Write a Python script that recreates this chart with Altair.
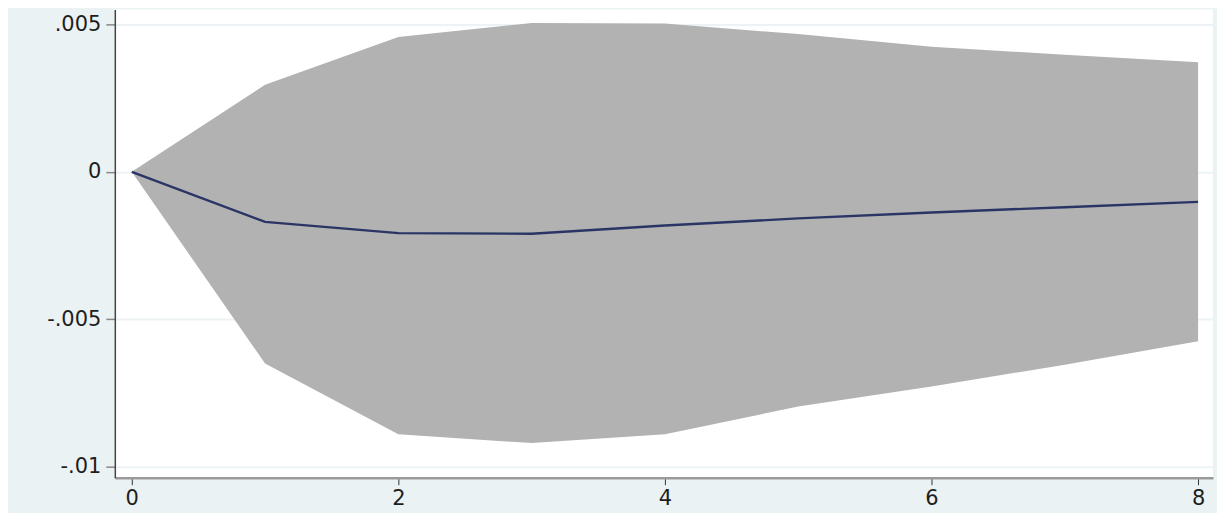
import altair as alt
import pandas as pd

step = [0, 1, 2, 3, 4, 5, 6, 7, 8]
irf = [0, -0.0017, -0.00208, -0.0021, -0.00182, -0.00158, -0.00138, -0.0012, -0.00102]
upper = [0, 0.00295, 0.00457, 0.00505, 0.00503, 0.00467, 0.00424, 0.00397, 0.00372]
lower = [0, -0.0065, -0.0089, -0.0092, -0.0089, -0.00796, -0.00728, -0.00654, -0.00575]
y_ticks = [-0.01, -0.005, 0, 0.005]
x_ticks = [0, 2, 4, 6, 8]

df = pd.DataFrame({"step": step, "irf": irf, "upper": upper, "lower": lower})

FONT = "DejaVu Sans"
x_scale = alt.Scale(domain=[-0.127, 8.112], nice=False, zero=False)
y_scale = alt.Scale(domain=[-0.010372, 0.005508], nice=False, zero=False)

label_expr = "(datum.value < 0 ? '-' : '') + replace(format(abs(datum.value), '~g'), '0.', '.')"

x_axis = alt.Axis(values=x_ticks, title=None, grid=False, domainColor="#9a9a9a",
                  domainWidth=2.5, tickColor="#333333", tickSize=7, tickWidth=1,
                  labelFont=FONT, labelFontSize=21, labelColor="#1e1e1e",
                  labelPadding=3, labelFlush=False, format="d")
y_axis = alt.Axis(values=y_ticks, title=None, grid=True, gridColor="#edf3f5",
                  gridWidth=2, domainColor="#444444", domainWidth=1.5,
                  tickColor="#888888", tickSize=9, tickWidth=1.5,
                  labelFont=FONT, labelFontSize=21, labelColor="#1e1e1e",
                  labelPadding=5, labelExpr=label_expr)

band = alt.Chart(df).mark_area(color="#b2b2b2", opacity=1, interpolate="linear").encode(
    x=alt.X("step:Q", scale=x_scale, axis=x_axis),
    y=alt.Y("lower:Q", scale=y_scale, axis=y_axis),
    y2="upper:Q",
)

line = alt.Chart(df).mark_line(color="#2a3566", strokeWidth=2.4).encode(
    x=alt.X("step:Q", scale=x_scale),
    y=alt.Y("irf:Q", scale=y_scale),
)

chart = (band + line).properties(
    width=1100,
    height=469,
    autosize=alt.AutoSizeParams(type="none"),
    padding={"left": 107, "top": 1, "right": 4, "bottom": 35},
    background="#eaf2f3",
).configure_view(fill="white", stroke=None)

chart.save("out.html", embed_options={"renderer": "svg", "actions": False})
